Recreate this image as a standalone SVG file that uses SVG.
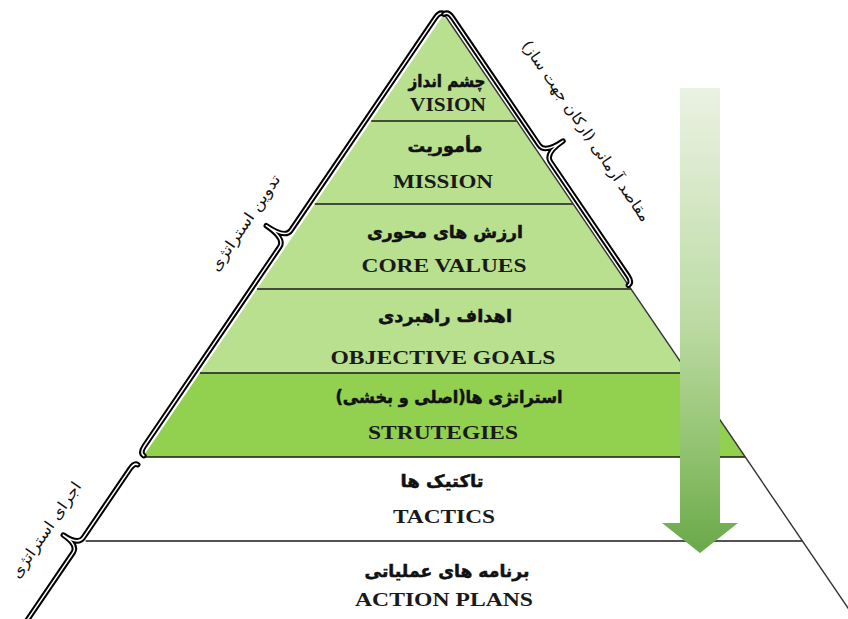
<svg xmlns="http://www.w3.org/2000/svg" width="848" height="619" viewBox="0 0 848 619">
<defs>
<style>
.en{font-family:'Liberation Serif','Times New Roman',serif;font-weight:bold;font-size:18px;fill:#1a1a1a;text-anchor:middle}
.fa{font-family:'DejaVu Sans','Noto Sans',sans-serif;font-weight:bold;font-size:17px;fill:#111;stroke:#111;stroke-width:0.5;text-anchor:middle;direction:rtl}
.side{font-family:'DejaVu Sans','Noto Sans',sans-serif;font-size:15px;fill:#111;text-anchor:middle;direction:rtl}
.light{fill:#b9e08e}
.dark{fill:#92d050}
.white{fill:#ffffff}
.sep{stroke:#1a1a1a;stroke-width:1.5;fill:none}
.edge{stroke:#333;stroke-width:1.4;fill:none}
.braceO{stroke:#000;stroke-width:5.5;fill:none;stroke-linejoin:round;stroke-linecap:round}
.braceI{stroke:#fff;stroke-width:1.5;fill:none;stroke-linejoin:round;stroke-linecap:round}
</style>
<linearGradient id="arrowGrad" gradientUnits="userSpaceOnUse" x1="0" y1="88" x2="0" y2="553">
<stop offset="0" stop-color="#eaf2e3"/>
<stop offset="0.5" stop-color="#bddba4"/>
<stop offset="0.8" stop-color="#8ec06b"/>
<stop offset="1" stop-color="#6aa84a"/>
</linearGradient>
</defs>
<rect width="848" height="619" fill="#fff"/>

<g id="tier-vision">
<polygon class="light" points="444,14 516.8,121 371.2,121"/>
<text class="fa" x="447" y="87" textLength="77" lengthAdjust="spacingAndGlyphs">چشم انداز</text>
<text class="en" x="448" y="111" font-size="16" textLength="76" lengthAdjust="spacingAndGlyphs">VISION</text>
</g>
<g id="tier-mission">
<polygon class="light" points="371.2,121 516.8,121 573.2,204 314.8,204"/>
<text class="fa" x="445" y="152" textLength="75" lengthAdjust="spacingAndGlyphs">مأموریت</text>
<text class="en" x="443" y="188" textLength="100" lengthAdjust="spacingAndGlyphs">MISSION</text>
</g>
<g id="tier-core-values">
<polygon class="light" points="314.8,204 573.2,204 631,289 257,289"/>
<text class="fa" x="445" y="238" textLength="156" lengthAdjust="spacingAndGlyphs">ارزش های محوری</text>
<text class="en" x="444" y="272" textLength="165" lengthAdjust="spacingAndGlyphs">CORE VALUES</text>
</g>
<g id="tier-objective-goals">
<polygon class="light" points="257,289 631,289 688.1,373 199.9,373"/>
<text class="fa" x="445" y="322" textLength="134" lengthAdjust="spacingAndGlyphs">اهداف راهبردی</text>
<text class="en" x="443" y="364" textLength="225" lengthAdjust="spacingAndGlyphs">OBJECTIVE GOALS</text>
</g>
<g id="tier-strategies">
<polygon class="dark" points="199.9,373 688.1,373 745.2,457 142.8,457"/>
<text class="fa" x="449" y="403" textLength="227" lengthAdjust="spacingAndGlyphs">استراتژی ها(اصلی و بخشی)</text>
<text class="en" x="443" y="439" textLength="150" lengthAdjust="spacingAndGlyphs">STRUTEGIES</text>
</g>
<g id="tier-tactics">
<polygon class="white" points="142.8,457 745.2,457 802.4,541 85.6,541"/>
<text class="fa" x="442" y="487" textLength="83" lengthAdjust="spacingAndGlyphs">تاکتیک ها</text>
<text class="en" x="444" y="523" textLength="102" lengthAdjust="spacingAndGlyphs">TACTICS</text>
</g>
<g id="tier-action-plans">
<polygon class="white" points="85.6,541 802.4,541 855.4,619 32.6,619"/>
<text class="fa" x="447" y="577" textLength="165" lengthAdjust="spacingAndGlyphs">برنامه های عملیاتی</text>
<text class="en" x="444" y="606" textLength="178" lengthAdjust="spacingAndGlyphs">ACTION PLANS</text>
</g>

<g id="outlines">
<line class="sep" x1="371.2" y1="121" x2="516.8" y2="121"/>
<line class="sep" x1="314.8" y1="204" x2="573.2" y2="204"/>
<line class="sep" x1="257" y1="289" x2="631" y2="289"/>
<line class="sep" x1="199.9" y1="373" x2="688.1" y2="373"/>
<line class="sep" x1="142.8" y1="457" x2="745.2" y2="457"/>
<line class="sep" x1="85.6" y1="541" x2="802.4" y2="541"/>
<line class="edge" x1="444" y1="14" x2="855.4" y2="619"/>
</g>

<g id="connectors">
<g transform="translate(444,14) rotate(124.2)">
<path class="braceO" d="M0,0 Q0,5 8,5 L265,5 Q275,5 275,28 Q275,5 285,5 L526,5 Q534,5 534,0"/>
<path class="braceI" d="M0,0 Q0,5 8,5 L265,5 Q275,5 275,28 Q275,5 285,5 L526,5 Q534,5 534,0"/>
</g>
<g transform="translate(444,14) rotate(55.8) scale(1,-1)">
<path class="braceO" d="M0,0 Q0,5 8,5 L162,5 Q172,5 172,27 Q172,5 182,5 L320,5 Q328,5 328,0"/>
<path class="braceI" d="M0,0 Q0,5 8,5 L162,5 Q172,5 172,27 Q172,5 182,5 L320,5 Q328,5 328,0"/>
</g>
<g transform="translate(137.7,464.7) rotate(124.2)">
<path class="braceO" d="M0,0 Q0,4 8,4 L91,4 Q100,4 100,22 Q100,4 109,4 L190,4 Q198,4 198,0"/>
<path class="braceI" d="M0,0 Q0,4 8,4 L91,4 Q100,4 100,22 Q100,4 109,4 L190,4 Q198,4 198,0"/>
</g>
</g>

<g id="side-labels">
<text class="side" transform="translate(586,131) rotate(55.8)" dy="5" textLength="215" lengthAdjust="spacingAndGlyphs">مقاصد آرمانی (ارکان جهت ساز)</text>
<text class="side" transform="translate(245,223) rotate(-55.8)" dy="5" textLength="113" lengthAdjust="spacingAndGlyphs">تدوین استراتژی</text>
<text class="side" transform="translate(46,530) rotate(-55.8)" dy="5" textLength="113" lengthAdjust="spacingAndGlyphs">اجرای استراتژی</text>
</g>

<g id="flow-arrow">
<path d="M680,88 H720 V523 H738 L700,553 L662,523 H680 Z" fill="url(#arrowGrad)"/>
</g>
</svg>
